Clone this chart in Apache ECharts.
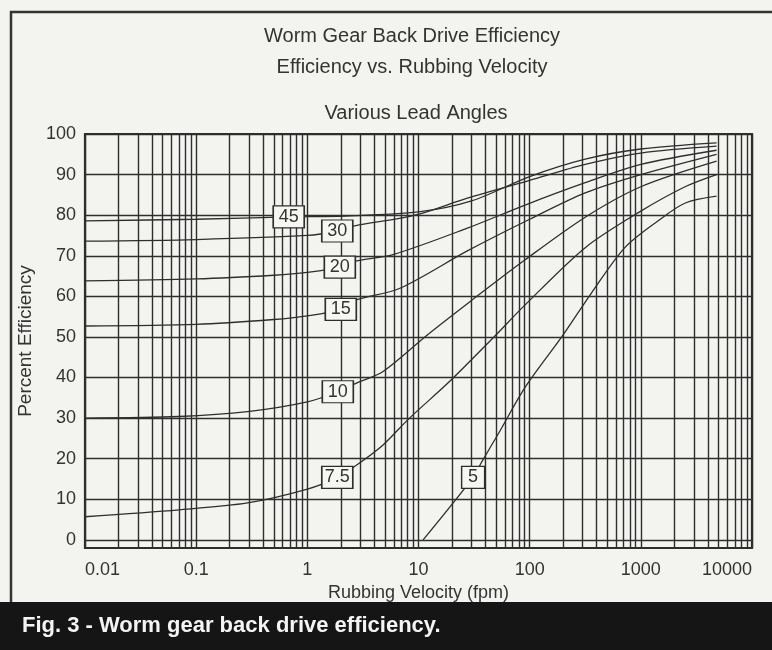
<!DOCTYPE html>
<html>
<head>
<meta charset="utf-8">
<script src="https://cdn.jsdelivr.net/npm/echarts@6/dist/echarts.min.js"></script>
<style>
  html, body { margin: 0; padding: 0; background: #f3f3f0; }
  #chart { width: 772px; height: 650px; }
</style>
</head>
<body>
<div id="chart"></div>
<script>
// Efficiency curves, [rubbing velocity (fpm), percent efficiency], one per lead angle
const lead45 = [[0.01, 78.6], [0.1, 79.0], [0.68, 79.6], [2.2, 79.8], [10, 80.8], [30, 83.5], [100, 89.5], [316, 93.8], [1000, 96.3], [4800, 97.8]];
const lead30 = [[0.01, 73.6], [0.1, 74.0], [1, 75.0], [1.86, 76.1], [2.6, 77.3], [9.3, 80.0], [27.5, 84.2], [100, 88.6], [316, 92.5], [1000, 95.3], [4800, 97.0]];
const lead20 = [[0.01, 63.8], [0.1, 64.3], [0.5, 65.2], [1, 65.9], [1.96, 67.2], [2.7, 68.7], [5.9, 70.3], [27.5, 76.8], [91, 82.5], [316, 88.0], [1000, 92.5], [4800, 96.0]];
const lead15 = [[0.01, 52.7], [0.1, 53.1], [0.5, 54.3], [1, 55.2], [2.0, 56.8], [2.6, 58.9], [6.8, 62.0], [27.5, 71.2], [100, 79.0], [316, 85.5], [1000, 90.0], [4800, 95.0]];
const lead10 = [[0.01, 30.0], [0.07, 30.4], [0.29, 31.6], [1, 34.0], [1.88, 36.5], [2.8, 38.7], [4.8, 41.5], [12, 50.5], [30, 59.0], [91, 69.0], [316, 79.5], [1000, 87.0], [4800, 93.3]];
const lead7_5 = [[0.01, 5.7], [0.07, 7.4], [0.29, 9.1], [1, 12.5], [1.86, 15.4], [2.8, 18.5], [4.8, 23.4], [8.3, 30.0], [19, 39.0], [47, 49.8], [91, 57.9], [316, 72.0], [1000, 81.0], [2500, 87.0], [4800, 90.0]];
const lead5 = [[11, 0], [31, 15.4], [37.2, 19.3], [53.7, 26.7], [90.6, 37.5], [200, 50.5], [363, 61.0], [718, 72.0], [1413, 78.5], [2512, 83.0], [4800, 84.7]];

const leadNames = ['45', '30', '20', '15', '10', '7.5', '5'];
const leadCurves = [lead45, lead30, lead20, lead15, lead10, lead7_5, lead5];
// index of the point in each curve where its boxed lead-angle tag sits
const tagPointIndex = [2, 3, 4, 4, 4, 4, 1];

const xTickValues = [0.01, 0.1, 1, 10, 100, 1000, 10000];
const xTickLabels = ['0.01', '0.1', '1', '10', '100', '1000', '10000'];
const xSubDivisions = [2, 3, 4, 5, 6, 7, 8, 9];
const yTickValues = [0, 10, 20, 30, 40, 50, 60, 70, 80, 90, 100];

const INK = '#2e2e2e';
const FONT = '"Liberation Sans", Arial, sans-serif';

// log-paper rulings: every decade plus its 2..9 subdivisions
const verticalRulings = [];
xTickValues.forEach(function (d, i) {
  verticalRulings.push(d);
  if (i < xTickValues.length - 1) {
    xSubDivisions.forEach(function (m) { verticalRulings.push(+(d * m).toPrecision(3)); });
  }
});

const rulingData = verticalRulings.map(function (v) { return { xAxis: v }; })
  .concat(yTickValues.map(function (v) { return { yAxis: v }; }));

const series = [{
  type: 'line',
  data: [[1, 50]],
  symbol: 'none',
  lineStyle: { opacity: 0 },
  silent: true,
  z: 1,
  markLine: {
    silent: true,
    symbol: 'none',
    label: { show: false },
    lineStyle: { color: INK, width: 1.4, type: 'solid' },
    emphasis: { disabled: true },
    animation: false,
    data: rulingData
  }
}];

leadCurves.forEach(function (curve, i) {
  const tag = curve[tagPointIndex[i]];
  const name = leadNames[i];
  series.push({
    type: 'line',
    name: name,
    data: curve,
    smooth: 0.3,
    symbol: 'none',
    z: 3,
    lineStyle: { color: INK, width: 1.3 },
    markPoint: {
      symbol: 'rect',
      symbolSize: [name.length === 1 ? 23 : 31, 22],
      itemStyle: { color: '#f6f6f3', borderColor: INK, borderWidth: 1.4 },
      label: { show: true, formatter: name, color: '#333', fontSize: 18, fontFamily: FONT },
      z: 5,
      data: [{ coord: tag, name: name }]
    }
  });
});

const chart = echarts.init(document.getElementById('chart'));
chart.setOption({
  backgroundColor: '#f3f3f0',
  animation: false,
  textStyle: { fontFamily: FONT },
  grid: {
    left: 85, top: 134, right: 20, bottom: 102,
    show: true, borderColor: INK, borderWidth: 2.2, backgroundColor: 'transparent'
  },
  xAxis: {
    type: 'log',
    logBase: 10,
    min: 0.01,
    max: 10000,
    name: 'Rubbing Velocity (fpm)',
    nameLocation: 'middle',
    nameGap: 32,
    nameTextStyle: { fontSize: 18, color: '#333', fontFamily: FONT },
    axisLine: { show: false },
    axisTick: { show: false },
    splitLine: { show: false },
    axisLabel: {
      fontSize: 18, color: '#333', margin: 13, fontFamily: FONT,
      alignMinLabel: 'left', alignMaxLabel: 'right',
      formatter: function (v, idx) { return xTickLabels[idx]; }
    }
  },
  yAxis: {
    type: 'value',
    min: -2,
    max: 100,
    name: 'Percent Efficiency',
    nameLocation: 'middle',
    nameGap: 43,
    nameTextStyle: { fontSize: 19, color: '#333', fontFamily: FONT },
    axisLine: { show: false },
    axisTick: { show: false },
    splitLine: { show: false },
    axisLabel: { fontSize: 18, color: '#333', margin: 9, fontFamily: FONT, customValues: yTickValues }
  },
  graphic: [
    { type: 'polyline', shape: { points: [[11, 602], [11, 12], [772, 12]] }, style: { stroke: '#333', lineWidth: 2.5, fill: null } },
    { type: 'rect', shape: { x: 0, y: 602, width: 772, height: 48 }, style: { fill: '#151515' } },
    { type: 'text', x: 22, y: 626, style: { text: 'Fig. 3 - Worm gear back drive efficiency.', fill: '#f4f4f4', font: 'bold 22px ' + FONT, textVerticalAlign: 'middle' } },
    { type: 'text', x: 412, y: 36, style: { text: 'Worm Gear Back Drive Efficiency', fill: '#333', font: '20px ' + FONT, textAlign: 'center', textVerticalAlign: 'middle' } },
    { type: 'text', x: 412, y: 67, style: { text: 'Efficiency vs. Rubbing Velocity', fill: '#333', font: '20px ' + FONT, textAlign: 'center', textVerticalAlign: 'middle' } },
    { type: 'text', x: 416, y: 113, style: { text: 'Various Lead Angles', fill: '#333', font: '20px ' + FONT, textAlign: 'center', textVerticalAlign: 'middle' } }
  ],
  series: series
});
</script>
</body>
</html>
